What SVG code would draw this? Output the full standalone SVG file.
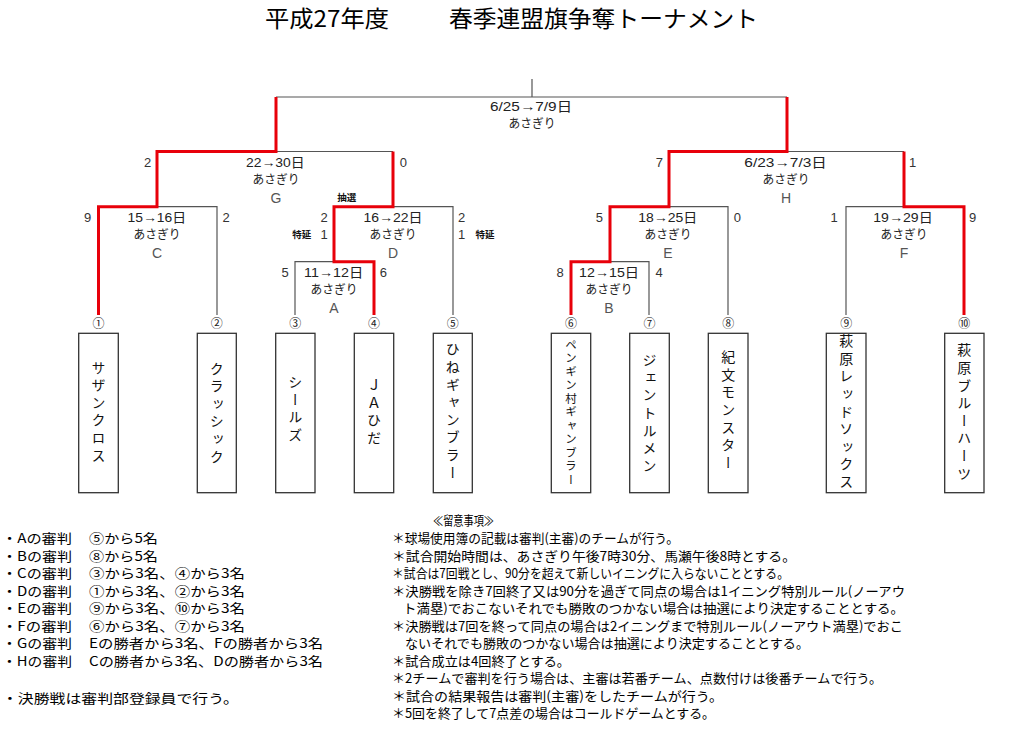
<svg xmlns="http://www.w3.org/2000/svg" width="1024" height="741" viewBox="0 0 1024 741">
<style>
.t{font-family:"Noto Sans CJK JP","Liberation Sans",sans-serif;fill:#000}
.title{font-size:23px}
.lbl{font-family:"Liberation Sans","Noto Sans CJK JP",sans-serif;font-size:13px;fill:#222}
.asa{font-family:"Noto Sans CJK JP",sans-serif;font-size:12.5px;fill:#222}
.let{font-family:"Liberation Sans",sans-serif;font-size:14px;fill:#555;text-anchor:middle}
.sc{font-family:"Liberation Sans",sans-serif;font-size:13px;fill:#333;text-anchor:middle}
.sm{font-family:"Noto Sans CJK JP",sans-serif;font-size:9.5px;font-weight:bold;fill:#111;text-anchor:middle}
.num{font-family:"Noto Sans CJK JP",sans-serif;font-size:12px;fill:#222;text-anchor:middle}
.box rect{fill:#fff;stroke:#333;stroke-width:1.3}
.vt{font-family:"Noto Sans CJK JP",sans-serif;font-size:14px;fill:#111;text-anchor:middle;writing-mode:vertical-rl;letter-spacing:3.6px}
.note{font-family:"Noto Sans CJK JP",sans-serif;font-size:13px;fill:#000}
.g{fill:none;stroke:#555;stroke-width:1.2}
.r{fill:none;stroke:#e8000a;stroke-width:3;stroke-linejoin:miter}
</style>
<rect width="1024" height="741" fill="#fff"/>
<g id="title">
<text class="t title" x="265" y="27" textLength="124" lengthAdjust="spacingAndGlyphs">平成27年度</text>
<text class="t title" x="449" y="27" textLength="309" lengthAdjust="spacingAndGlyphs">春季連盟旗争奪トーナメント</text>
</g>
<g id="connectors">
<path class="g" d="M532 79V97M276 97H787"/>
<path class="g" d="M276 151.5H393"/>
<path class="g" d="M157 206.7H217V315"/>
<path class="g" d="M393 206.7H453V315"/>
<path class="g" d="M295 315V261.7H334"/>
<path class="g" d="M787 151.5H904"/>
<path class="g" d="M669 206.7H728V315"/>
<path class="g" d="M610 261.7H649V315"/>
<path class="g" d="M846 315V206.7H904"/>
<path class="r" d="M276 97V151.5H157V206.7H98.5V315"/>
<path class="r" d="M393 151.5V206.7H334V261.7H374V315"/>
<path class="r" d="M787 97V151.5H669V206.7H610V261.7H571V315"/>
<path class="r" d="M904 151.5V206.7H964V315"/>
</g>
<g id="match-final">
<text class="lbl" x="490" y="111" textLength="82" lengthAdjust="spacingAndGlyphs">6/25→7/9日</text>
<text class="asa" x="508.5" y="128" textLength="47" lengthAdjust="spacingAndGlyphs">あさぎり</text>
</g>
<g id="match-G">
<text class="lbl" x="246" y="166.5" textLength="58.6" lengthAdjust="spacingAndGlyphs">22→30日</text>
<text class="asa" x="252.5" y="183.5" textLength="47" lengthAdjust="spacingAndGlyphs">あさぎり</text>
<text class="let" x="276" y="203">G</text>
<text class="sc" x="147.7" y="166.5">2</text>
<text class="sc" x="403.3" y="166.5">0</text>
</g>
<g id="match-C">
<text class="lbl" x="127.5" y="221.5" textLength="58.6" lengthAdjust="spacingAndGlyphs">15→16日</text>
<text class="asa" x="133.5" y="238.5" textLength="47" lengthAdjust="spacingAndGlyphs">あさぎり</text>
<text class="let" x="157" y="258">C</text>
<text class="sc" x="87.7" y="221.5">9</text>
<text class="sc" x="226" y="221.5">2</text>
</g>
<g id="match-D">
<text class="lbl" x="363.5" y="221.5" textLength="59" lengthAdjust="spacingAndGlyphs">16→22日</text>
<text class="asa" x="369.5" y="238.5" textLength="47" lengthAdjust="spacingAndGlyphs">あさぎり</text>
<text class="let" x="393" y="258">D</text>
<text class="sm" x="346.7" y="201">抽選</text>
<text class="sc" x="324" y="221.5">2</text>
<text class="sc" x="324" y="238.5">1</text>
<text class="sm" x="301.7" y="238">特延</text>
<text class="sc" x="461.7" y="221.5">2</text>
<text class="sc" x="461.7" y="238.5">1</text>
<text class="sm" x="485" y="238">特延</text>
</g>
<g id="match-A">
<text class="lbl" x="304" y="276.5" textLength="59.3" lengthAdjust="spacingAndGlyphs">11→12日</text>
<text class="asa" x="310.5" y="293.5" textLength="47" lengthAdjust="spacingAndGlyphs">あさぎり</text>
<text class="let" x="334" y="313">A</text>
<text class="sc" x="285" y="276.5">5</text>
<text class="sc" x="383.3" y="276.5">6</text>
</g>
<g id="match-H">
<text class="lbl" x="744.3" y="166.5" textLength="82.4" lengthAdjust="spacingAndGlyphs">6/23→7/3日</text>
<text class="asa" x="762.5" y="183.5" textLength="47" lengthAdjust="spacingAndGlyphs">あさぎり</text>
<text class="let" x="786" y="203">H</text>
<text class="sc" x="659.3" y="166.5">7</text>
<text class="sc" x="912.7" y="166.5">1</text>
</g>
<g id="match-E">
<text class="lbl" x="638.3" y="221.5" textLength="59" lengthAdjust="spacingAndGlyphs">18→25日</text>
<text class="asa" x="644.5" y="238.5" textLength="47" lengthAdjust="spacingAndGlyphs">あさぎり</text>
<text class="let" x="668" y="258">E</text>
<text class="sc" x="599.3" y="221.5">5</text>
<text class="sc" x="737.3" y="221.5">0</text>
</g>
<g id="match-B">
<text class="lbl" x="579" y="276.5" textLength="60" lengthAdjust="spacingAndGlyphs">12→15日</text>
<text class="asa" x="585.5" y="293.5" textLength="47" lengthAdjust="spacingAndGlyphs">あさぎり</text>
<text class="let" x="609" y="313">B</text>
<text class="sc" x="560" y="276.5">8</text>
<text class="sc" x="659" y="276.5">4</text>
</g>
<g id="match-F">
<text class="lbl" x="873.3" y="221.5" textLength="59.4" lengthAdjust="spacingAndGlyphs">19→29日</text>
<text class="asa" x="880.5" y="238.5" textLength="47" lengthAdjust="spacingAndGlyphs">あさぎり</text>
<text class="let" x="904" y="258">F</text>
<text class="sc" x="834" y="221.5">1</text>
<text class="sc" x="972.7" y="221.5">9</text>
</g>
<g id="team1" class="box"><text class="num" x="98.5" y="327.5">①</text><rect x="78.7" y="333.3" width="39.6" height="159.4"/><text class="vt" x="98.5" y="413">サザンクロス</text></g>
<g id="team2" class="box"><text class="num" x="216.8" y="327.5">②</text><rect x="197.3" y="333.3" width="39" height="159.4"/><text class="vt" x="216.8" y="414">クラッシック</text></g>
<g id="team3" class="box"><text class="num" x="295.3" y="327.5">③</text><rect x="275.7" y="333.3" width="39.3" height="159.4"/><text class="vt" x="295.3" y="410">シールズ</text></g>
<g id="team4" class="box"><text class="num" x="374" y="327.5">④</text><rect x="354.3" y="333.3" width="39.4" height="159.4"/><text class="vt" x="374" y="413">ＪＡひだ</text></g>
<g id="team5" class="box"><text class="num" x="452.8" y="327.5">⑤</text><rect x="433.3" y="333.3" width="39" height="159.4"/><text class="vt" x="452.8" y="412.5">ひねギャンブラー</text></g>
<g id="team6" class="box"><text class="num" x="571" y="327.5">⑥</text><rect x="551.3" y="333.3" width="39.4" height="159.4"/><text class="vt" x="571" y="413" style="font-size:11.5px;letter-spacing:2px">ペンギン村ギャンブラー</text></g>
<g id="team7" class="box"><text class="num" x="649.5" y="327.5">⑦</text><rect x="629.7" y="333.3" width="39.6" height="159.4"/><text class="vt" x="649.5" y="414.5">ジェントルメン</text></g>
<g id="team8" class="box"><text class="num" x="728.2" y="327.5">⑧</text><rect x="708.3" y="333.3" width="39.7" height="159.4"/><text class="vt" x="728.2" y="411.5">紀文モンスター</text></g>
<g id="team9" class="box"><text class="num" x="846.2" y="327.5">⑨</text><rect x="826.3" y="333.3" width="39.7" height="159.4"/><text class="vt" x="846.2" y="413">萩原レッドソックス</text></g>
<g id="team10" class="box"><text class="num" x="964.3" y="327.5">⑩</text><rect x="944.7" y="333.3" width="39.3" height="159.4"/><text class="vt" x="964.3" y="413.5">萩原ブルーハーツ</text></g>
<g id="umpires">
<text class="note" x="2" y="543" textLength="70" lengthAdjust="spacingAndGlyphs">・Aの審判</text>
<text class="note" x="89" y="543" textLength="69" lengthAdjust="spacingAndGlyphs">⑤から5名</text>
<text class="note" x="2" y="560.5" textLength="70" lengthAdjust="spacingAndGlyphs">・Bの審判</text>
<text class="note" x="89" y="560.5" textLength="69" lengthAdjust="spacingAndGlyphs">⑧から5名</text>
<text class="note" x="2" y="578" textLength="70" lengthAdjust="spacingAndGlyphs">・Cの審判</text>
<text class="note" x="89" y="578" textLength="156" lengthAdjust="spacingAndGlyphs">③から3名、④から3名</text>
<text class="note" x="2" y="595.5" textLength="70" lengthAdjust="spacingAndGlyphs">・Dの審判</text>
<text class="note" x="89" y="595.5" textLength="156" lengthAdjust="spacingAndGlyphs">①から3名、②から3名</text>
<text class="note" x="2" y="613" textLength="70" lengthAdjust="spacingAndGlyphs">・Eの審判</text>
<text class="note" x="89" y="613" textLength="156" lengthAdjust="spacingAndGlyphs">⑨から3名、⑩から3名</text>
<text class="note" x="2" y="630.5" textLength="70" lengthAdjust="spacingAndGlyphs">・Fの審判</text>
<text class="note" x="89" y="630.5" textLength="156" lengthAdjust="spacingAndGlyphs">⑥から3名、⑦から3名</text>
<text class="note" x="2" y="648" textLength="70" lengthAdjust="spacingAndGlyphs">・Gの審判</text>
<text class="note" x="89" y="648" textLength="234" lengthAdjust="spacingAndGlyphs">Eの勝者から3名、Fの勝者から3名</text>
<text class="note" x="2" y="665.5" textLength="70" lengthAdjust="spacingAndGlyphs">・Hの審判</text>
<text class="note" x="89" y="665.5" textLength="234" lengthAdjust="spacingAndGlyphs">Cの勝者から3名、Dの勝者から3名</text>
<text class="note" x="2" y="703" textLength="237" lengthAdjust="spacingAndGlyphs">・決勝戦は審判部登録員で行う。</text>
</g>
<g id="notes">
<text class="note" x="433" y="525" textLength="61" lengthAdjust="spacingAndGlyphs">≪留意事項≫</text>
<text class="note" x="392" y="543" textLength="287" lengthAdjust="spacingAndGlyphs">＊球場使用簿の記載は審判(主審)のチームが行う。</text>
<text class="note" x="392" y="560.5" textLength="404" lengthAdjust="spacingAndGlyphs">＊試合開始時間は、あさぎり午後7時30分、馬瀬午後8時とする。</text>
<text class="note" x="392" y="578" textLength="397" lengthAdjust="spacingAndGlyphs">＊試合は7回戦とし、90分を超えて新しいイニングに入らないこととする。</text>
<text class="note" x="392" y="595.5" textLength="513" lengthAdjust="spacingAndGlyphs">＊決勝戦を除き7回終了又は90分を過ぎて同点の場合は1イニング特別ルール(ノーアウ</text>
<text class="note" x="403" y="613" textLength="501" lengthAdjust="spacingAndGlyphs">ト満塁)でおこないそれでも勝敗のつかない場合は抽選により決定することとする。</text>
<text class="note" x="392" y="630.5" textLength="511" lengthAdjust="spacingAndGlyphs">＊決勝戦は7回を終って同点の場合は2イニングまで特別ルール(ノーアウト満塁)でおこ</text>
<text class="note" x="405" y="648" textLength="404" lengthAdjust="spacingAndGlyphs">ないそれでも勝敗のつかない場合は抽選により決定することとする。</text>
<text class="note" x="392" y="665.5" textLength="178" lengthAdjust="spacingAndGlyphs">＊試合成立は4回終了とする。</text>
<text class="note" x="392" y="683" textLength="490" lengthAdjust="spacingAndGlyphs">＊2チームで審判を行う場合は、主審は若番チーム、点数付けは後番チームで行う。</text>
<text class="note" x="392" y="700.5" textLength="331" lengthAdjust="spacingAndGlyphs">＊試合の結果報告は審判(主審)をしたチームが行う。</text>
<text class="note" x="392" y="718" textLength="323" lengthAdjust="spacingAndGlyphs">＊5回を終了して7点差の場合はコールドゲームとする。</text>
</g>
</svg>
